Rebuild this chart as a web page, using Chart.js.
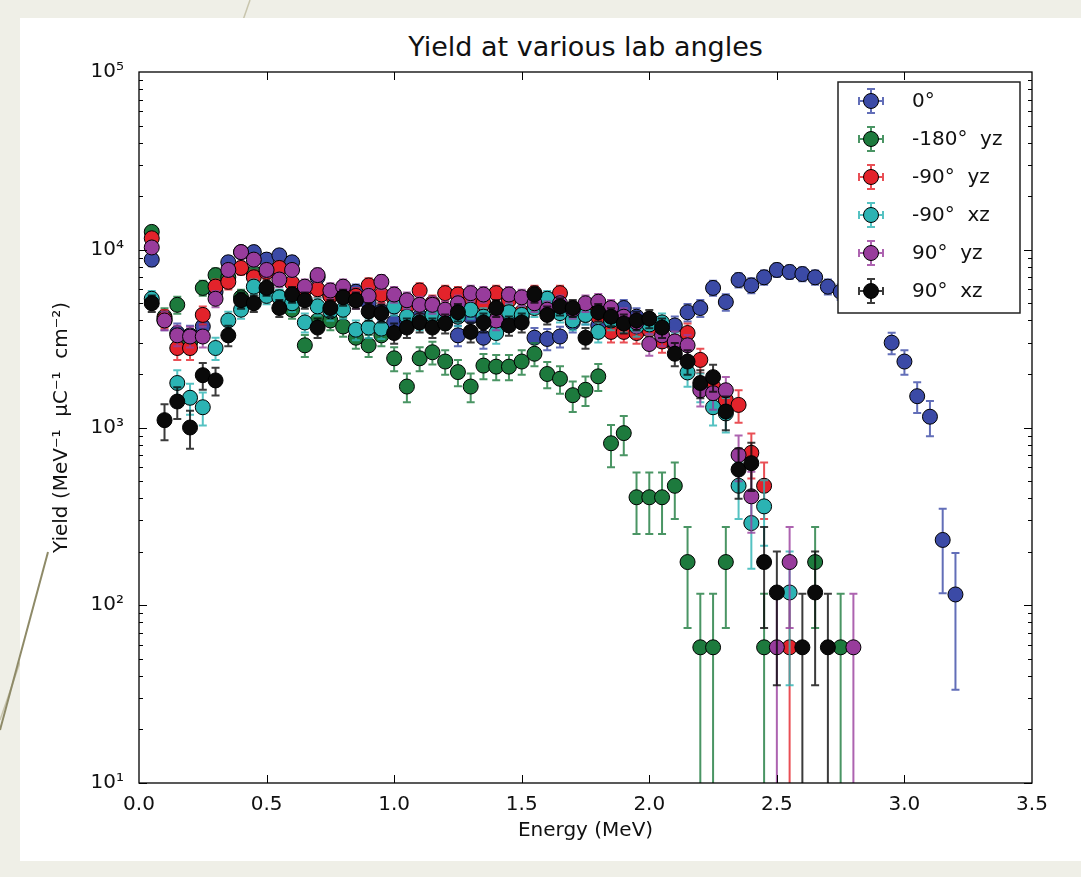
<!DOCTYPE html>
<html>
<head>
<meta charset="utf-8">
<script src="https://cdn.jsdelivr.net/npm/chart.js"></script>
<style>
html, body { margin: 0; padding: 0; width: 1081px; height: 877px; overflow: hidden; background: #efefe7; font-family: "DejaVu Sans", sans-serif; }
#panel { position: absolute; left: 20px; top: 18px; width: 1061px; height: 843px; background: #fff; }
#deco { position: absolute; left: 0; top: 0; }
#title { position: absolute; left: 139px; top: 31px; width: 893px; text-align: center; font-size: 27px; color: #111; }
#myChart { position: absolute; left: 0; top: 0; }
</style>
</head>
<body>
<svg id="deco" width="1081" height="877">
  <line x1="250" y1="0" x2="0" y2="720" stroke="#c8c5ad" stroke-width="1.5"/>
</svg>
<div id="panel"></div>
<svg id="deco2" width="60" height="760" style="position:absolute;left:0;top:0">
  <line x1="48" y1="552" x2="0" y2="730" stroke="#8e8a68" stroke-width="2"/>
</svg>
<div id="title">Yield at various lab angles</div>
<canvas id="myChart" width="1081" height="877"></canvas>
<script>
// energy bins (MeV)
var energy = [0.05, 0.10, 0.15, 0.20, 0.25, 0.30, 0.35, 0.40, 0.45, 0.50,
  0.55, 0.60, 0.65, 0.70, 0.75, 0.80, 0.85, 0.90, 0.95, 1.00,
  1.05, 1.10, 1.15, 1.20, 1.25, 1.30, 1.35, 1.40, 1.45, 1.50,
  1.55, 1.60, 1.65, 1.70, 1.75, 1.80, 1.85, 1.90, 1.95, 2.00,
  2.05, 2.10, 2.15, 2.20, 2.25, 2.30, 2.35, 2.40, 2.45, 2.50,
  2.55, 2.60, 2.65, 2.70, 2.75, 2.80, 2.85, 2.90, 2.95, 3.00,
  3.05, 3.10, 3.15, 3.20];

// yields, null = no point
var yield0 = [8800, 4000, 3400, 3300, 3700, 5800, 8500, 9700, 9700, 8800,
  9300, 8500, 6000, 7000, 5500, 5500, 5800, 5000, 4500, 3900,
  4000, 4200, 4300, 4300, 3300, 4200, 3200, 3900, 4000, 4200,
  3200, 3150, 3250, 3900, 4300, 3750, 4500, 4700, 4200, 3900,
  3700, 3750, 4450, 4700, 6100, 5080, 6760, 6300, 7000, 7700,
  7500, 7300, 7000, 6200, 5800, null, null, null, 3000, 2350,
  1500, 1150, 233, 115];
var yieldM180yz = [12600, 4200, 4900, 3000, 6100, 7200, 7000, 5400, 7400, 5800,
  5400, 4600, 2900, 4000, 4000, 3700, 3200, 2900, 3300, 2450,
  1700, 2450, 2650, 2350, 2050, 1700, 2230, 2200, 2200, 2350,
  2600, 2000, 1880, 1520, 1630, 1940, 815, 930, 405, 405,
  405, 470, 175, 58, 58, 175, null, null, 58, null,
  null, null, 175, null, 58, null, null, null, null, null,
  null, null, null, null];
var yieldM90yz = [11600, 4100, 2800, 2800, 4300, 6200, 6600, 7900, 7000, 7500,
  7900, 6500, 6000, 6000, 5500, 5800, 5500, 6300, 5600, 5300,
  4800, 5900, 5000, 5700, 5600, 5200, 5000, 5700, 5200, 4450,
  5700, 4800, 5700, 4500, 4600, 4200, 3450, 3450, 3400, 3550,
  3050, 2900, 3400, 2400, 1700, 1430, 1340, 720, 470, null,
  58, null, null, null, null, null, null, null, null, null,
  null, null, null, null];
var yieldM90xz = [5300, null, 1780, 1470, 1300, 2800, 4000, 4600, 6200, 5500,
  5400, 5000, 3900, 4800, 4500, 4600, 3550, 3650, 3600, 4800,
  4200, 4000, 4300, 4100, 4200, 4600, 4200, 3400, 4450, 4300,
  4700, 5300, 4400, 4000, 4300, 3450, 4000, 3900, 3700, 3800,
  3900, 3000, 2040, 1700, 1300, 1200, 470, 290, 360, null,
  118, null, null, null, null, null, null, null, null, null,
  null, null, null, null];
var yield90yz = [10300, 4000, 3300, 3250, 3250, 5300, 7700, 9700, 8800, 7700,
  6800, 7700, 6200, 7200, 5900, 6200, 5200, 5500, 6600, 5600,
  5200, 4900, 4900, 4600, 5000, 5700, 5600, 4000, 5600, 5400,
  5000, 4600, 5000, 4600, 5000, 5100, 4700, 4200, 3900, 2950,
  3300, 3050, 2900, 1620, 1560, 1620, 700, 410, null, 58,
  175, null, null, null, null, 58, null, null, null, null,
  null, null, null, null];
var yield90xz = [5000, 1100, 1400, 1000, 1970, 1840, 3300, 5200, 5000, 6100,
  4700, 5600, 5200, 3650, 4700, 5400, 5200, 4500, 4400, 3400,
  3650, 3900, 3650, 3850, 4450, 3450, 3900, 4700, 3750, 3900,
  5600, 4300, 4800, 4700, 3200, 4450, 4200, 3850, 4000, 4100,
  3650, 2600, 2350, 1780, 1920, 1230, 580, 630, 175, 118,
  null, 58, 118, 58, null, null, null, null, null, null,
  null, null, null, null];

var seriesLabels = ['0\u00b0', '-180\u00b0  yz', '-90\u00b0  yz', '-90\u00b0  xz', '90\u00b0  yz', '90\u00b0  xz'];
var seriesValues = [yield0, yieldM180yz, yieldM90yz, yieldM90xz, yield90yz, yield90xz];
var seriesColors = ['#3b4aa6', '#1d7a3d', '#e3232b', '#2bb3b3', '#983c9c', '#0a0a0a'];

var yTickValues = [10, 100, 1000, 10000, 100000];
var yTickLabels = ['10\u00b9', '10\u00b2', '10\u00b3', '10\u2074', '10\u2075'];

// counting statistics: error = k * sqrt(N) in the plotted units
var countScale = 7.6;

function hexA(h, a) {
  var r = parseInt(h.substr(1, 2), 16), g = parseInt(h.substr(3, 2), 16), b = parseInt(h.substr(5, 2), 16);
  return 'rgba(' + r + ',' + g + ',' + b + ',' + a + ')';
}

var datasets = seriesValues.map(function (vals, k) {
  var pts = [];
  for (var i = 0; i < energy.length; i++) {
    if (vals[i] != null) pts.push({ x: energy[i], y: vals[i] });
  }
  return {
    label: seriesLabels[k],
    data: pts,
    showLine: false,
    order: seriesValues.length - k,
    pointRadius: 7.5,
    pointHoverRadius: 7.5,
    pointBackgroundColor: seriesColors[k],
    pointBorderColor: '#000',
    pointBorderWidth: 1,
    barColor: hexA(seriesColors[k], 0.8)
  };
});

var errorBars = {
  id: 'errorBars',
  beforeDatasetDraw: function (chart, args) {
    var ds = chart.data.datasets[args.index];
    var ctx = chart.ctx, xs = chart.scales.x, ys = chart.scales.y, ca = chart.chartArea;
    ctx.save();
    ctx.beginPath();
    ctx.rect(ca.left, ca.top, ca.right - ca.left, ca.bottom - ca.top);
    ctx.clip();
    ctx.strokeStyle = ds.barColor;
    ctx.lineWidth = 2;
    ds.data.forEach(function (p) {
      var err = countScale * Math.sqrt(p.y);
      var px = xs.getPixelForValue(p.x);
      var hi = ys.getPixelForValue(p.y + err);
      var lo = p.y - err > 0.5 ? ys.getPixelForValue(p.y - err) : ca.bottom + 10;
      ctx.beginPath();
      ctx.moveTo(px, hi); ctx.lineTo(px, lo);
      ctx.moveTo(px - 4, hi); ctx.lineTo(px + 4, hi);
      ctx.moveTo(px - 4, lo); ctx.lineTo(px + 4, lo);
      ctx.stroke();
    });
    ctx.restore();
  }
};

var frameAndLegend = {
  id: 'frameAndLegend',
  afterDraw: function (chart) {
    var ctx = chart.ctx, ca = chart.chartArea, xs = chart.scales.x, ys = chart.scales.y;
    ctx.save();
    ctx.strokeStyle = '#000';
    ctx.lineWidth = 1.3;
    ctx.strokeRect(ca.left, ca.top, ca.right - ca.left, ca.bottom - ca.top);
    ctx.lineWidth = 1;
    ctx.beginPath();
    for (var v = 0.5; v < 3.5; v += 0.5) {
      var px = Math.round(xs.getPixelForValue(v)) + 0.5;
      ctx.moveTo(px, ca.bottom); ctx.lineTo(px, ca.bottom - 8);
      ctx.moveTo(px, ca.top); ctx.lineTo(px, ca.top + 8);
    }
    for (var d = 10; d < 1e5; d *= 10) {
      for (var m = 1; m < 10; m++) {
        var py = Math.round(ys.getPixelForValue(d * m)) + 0.5;
        var len = m === 1 ? 8 : 4;
        ctx.moveTo(ca.left, py); ctx.lineTo(ca.left + len, py);
        ctx.moveTo(ca.right, py); ctx.lineTo(ca.right - len, py);
      }
    }
    ctx.stroke();

    // legend box inside plot, upper right
    var bx = 838, by = 82, bw = 182, bh = 231;
    ctx.fillStyle = '#fff';
    ctx.fillRect(bx, by, bw, bh);
    ctx.strokeStyle = '#222';
    ctx.lineWidth = 1.5;
    ctx.strokeRect(bx, by, bw, bh);
    ctx.font = '20px "DejaVu Sans"';
    ctx.textBaseline = 'middle';
    chart.data.datasets.forEach(function (ds, k) {
      var cy = by + 19 + k * 38, cx = 871;
      ctx.strokeStyle = ds.barColor;
      ctx.lineWidth = 2;
      ctx.beginPath();
      ctx.moveTo(cx - 12, cy); ctx.lineTo(cx + 12, cy);
      ctx.moveTo(cx, cy - 12); ctx.lineTo(cx, cy + 12);
      ctx.moveTo(cx - 4, cy - 12); ctx.lineTo(cx + 4, cy - 12);
      ctx.moveTo(cx - 4, cy + 12); ctx.lineTo(cx + 4, cy + 12);
      ctx.moveTo(cx - 12, cy - 4); ctx.lineTo(cx - 12, cy + 4);
      ctx.moveTo(cx + 12, cy - 4); ctx.lineTo(cx + 12, cy + 4);
      ctx.stroke();
      ctx.beginPath();
      ctx.arc(cx, cy, 7.5, 0, Math.PI * 2);
      ctx.fillStyle = ds.pointBackgroundColor;
      ctx.fill();
      ctx.strokeStyle = '#000';
      ctx.lineWidth = 1;
      ctx.stroke();
      ctx.fillStyle = '#111';
      ctx.fillText(ds.label, 912, cy + 1);
    });
    ctx.restore();
  }
};

var ctx = document.getElementById('myChart').getContext('2d');
var chart = new Chart(ctx, {
  type: 'scatter',
  data: { datasets: datasets },
  plugins: [errorBars, frameAndLegend],
  options: {
    responsive: false,
    animation: false,
    events: [],
    layout: { padding: { top: 72, right: 49, left: 0, bottom: 0 } },
    plugins: { legend: { display: false }, tooltip: { enabled: false } },
    scales: {
      x: {
        type: 'linear', min: 0, max: 3.5,
        grid: { display: false }, border: { display: false },
        ticks: {
          stepSize: 0.5, maxRotation: 0, padding: 2, color: '#111',
          font: { family: 'DejaVu Sans', size: 20 },
          callback: function (v) { return v.toFixed(1); }
        },
        title: { display: true, text: 'Energy (MeV)', color: '#111', font: { family: 'DejaVu Sans', size: 20 }, padding: { top: 0, bottom: 34 } },
        afterFit: function (s) { s.height = 94; }
      },
      y: {
        type: 'logarithmic', min: 10, max: 100000,
        grid: { display: false }, border: { display: false },
        afterBuildTicks: function (s) { s.ticks = yTickValues.map(function (v) { return { value: v }; }); },
        ticks: {
          padding: 7, color: '#111',
          font: { family: 'DejaVu Sans', size: 20 },
          callback: function (v) { var i = yTickValues.indexOf(v); return i >= 0 ? yTickLabels[i] : ''; }
        },
        title: { display: true, text: 'Yield (MeV\u207b\u00b9  \u03bcC\u207b\u00b9  cm\u207b\u00b2)', color: '#111', font: { family: 'DejaVu Sans', size: 20 }, padding: { top: 50, bottom: 0 } },
        afterFit: function (s) { s.width = 139; }
      }
    }
  }
});
</script>
</body>
</html>
